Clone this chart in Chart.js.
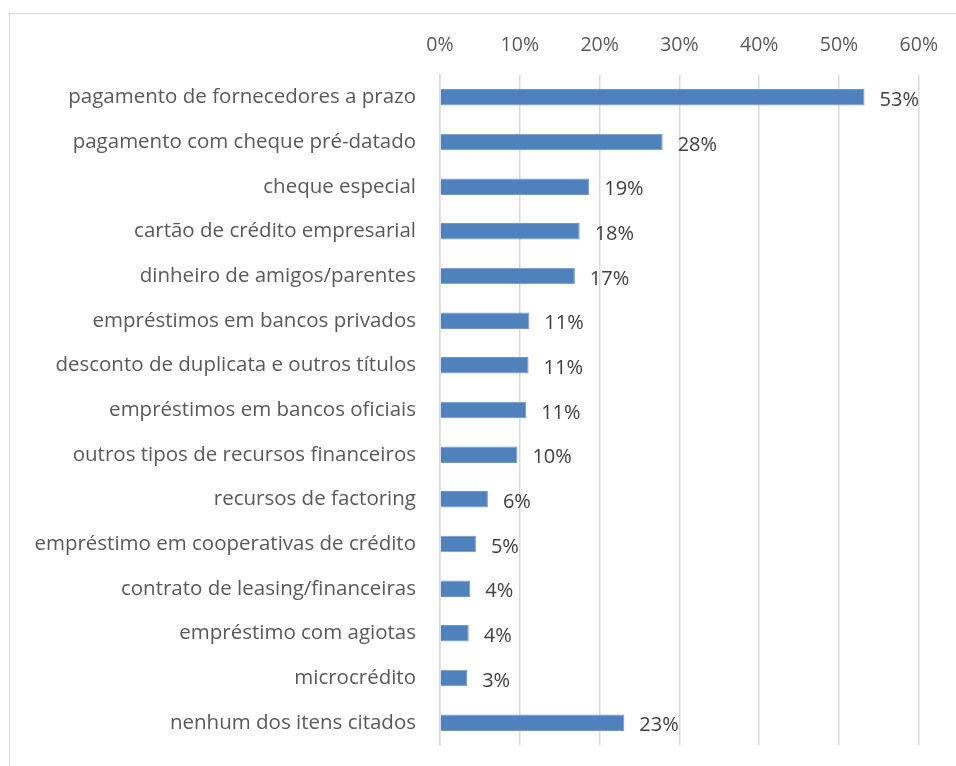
<!DOCTYPE html>
<html>
<head>
<meta charset="utf-8">
<script src="https://cdn.jsdelivr.net/npm/chart.js@4"></script>
<style>
  html, body { margin: 0; padding: 0; background: #fff; }
  #wrap { position: relative; width: 956px; height: 766px; overflow: hidden; }
  #frame { position: absolute; left: 9px; top: 13px; width: 1000px; height: 800px; border: 1px solid #d9d9d9; }
  canvas { position: absolute; left: 0; top: 0; }
</style>
</head>
<body>
<div id="wrap">
  <div id="frame"></div>
  <canvas id="chart" width="956" height="766"></canvas>
</div>
<script>
  // categories (top to bottom)
  const categories = [
    'pagamento de fornecedores a prazo',
    'pagamento com cheque pré-datado',
    'cheque especial',
    'cartão de crédito empresarial',
    'dinheiro de amigos/parentes',
    'empréstimos em bancos privados',
    'desconto de duplicata e outros títulos',
    'empréstimos em bancos oficiais',
    'outros tipos de recursos financeiros',
    'recursos de factoring',
    'empréstimo em cooperativas de crédito',
    'contrato de leasing/financeiras',
    'empréstimo com agiotas',
    'microcrédito',
    'nenhum dos itens citados'
  ];
  // values in percent
  const values = [53.2, 27.9, 18.7, 17.5, 16.9, 11.2, 11.1, 10.8, 9.7, 6.0, 4.5, 3.8, 3.6, 3.4, 23.1];
  const tickValues = [0, 10, 20, 30, 40, 50, 60];

  const fontFamily = '"Open Sans", sans-serif';

  // draws "53%" style labels right of every bar
  const barLabels = {
    id: 'barLabels',
    afterDatasetsDraw(chart) {
      const ctx = chart.ctx;
      const meta = chart.getDatasetMeta(0);
      ctx.save();
      ctx.fillStyle = '#404040';
      ctx.font = '20px ' + fontFamily;
      ctx.textAlign = 'left';
      ctx.textBaseline = 'middle';
      meta.data.forEach((bar, i) => {
        ctx.fillText(Math.round(values[i]) + '%', bar.x + 15, bar.y + 3);
      });
      ctx.restore();
    }
  };

  new Chart(document.getElementById('chart'), {
    type: 'bar',
    data: {
      labels: categories,
      datasets: [{
        data: values,
        backgroundColor: '#4f81bd',
        borderColor: '#7097c8',
        borderWidth: 1,
        barPercentage: 0.74,
        categoryPercentage: 0.5
      }]
    },
    plugins: [barLabels],
    options: {
      indexAxis: 'y',
      responsive: false,
      animation: false,
      layout: { padding: { left: 0, top: 0, right: 36, bottom: 21 } },
      plugins: { legend: { display: false }, tooltip: { enabled: false } },
      scales: {
        x: {
          position: 'top',
          min: 0,
          max: 60,
          afterBuildTicks(scale) {
            scale.ticks = tickValues.map(v => ({ value: v }));
          },
          afterFit(scale) { scale.height = 75; },
          grid: { color: '#d9d9d9', lineWidth: 1.5, drawTicks: false },
          border: { display: false },
          ticks: {
            color: '#595959',
            font: { family: fontFamily, size: 19.5 },
            padding: 18,
            callback: v => v + '%'
          }
        },
        y: {
          afterFit(scale) {
            scale.width = 440;
            scale.paddingTop = 0;
            scale.paddingBottom = 0;
          },
          grid: { display: false },
          border: { color: '#d9d9d9', width: 1.5 },
          ticks: {
            color: '#595959',
            font: { family: fontFamily, size: 20.5 },
            padding: 16
          }
        }
      }
    }
  });
</script>
</body>
</html>
